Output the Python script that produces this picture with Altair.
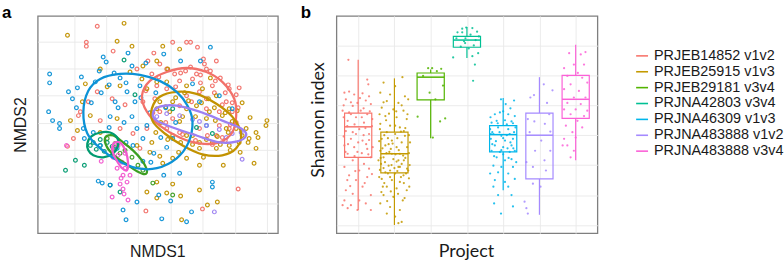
import altair as alt
import pandas as pd

projects = ["PRJEB14852 v1v2", "PRJEB25915 v1v3", "PRJEB29181 v3v4", "PRJNA42803 v3v4",
            "PRJNA46309 v1v3", "PRJNA483888 v1v2", "PRJNA483888 v3v4"]
colors = ["#F8766D", "#C49A00", "#53B400", "#00C094", "#00B6EB", "#A58AFF", "#FB61D7"]
colors_a = ["#F2716A", "#C29200", "#3C9E22", "#019B70", "#0C92D6", "#9C80F2", "#F25BCF"]

# ---------------- panel a : NMDS scores (NMDS1, NMDS2) ----------------
nmds_prjeb14852 = [(-0.74, 0.97), (-0.85, 0.81), (-0.85, 0.77), (-0.58, 0.72), (-0.17, 0.70), (0.02, 0.81),
                   (0.16, 0.81), (0.20, 0.81), (0.27, 0.76), (0.33, 0.64), (0.34, 0.59), (0.36, 0.54),
                   (0.46, 0.62), (0.69, 0.35), (0.68, -0.67), (-1.04, -0.24), (-0.93, 0.07), (-0.74, 0.31),
                   (-0.25, -0.89), (0.32, -0.87), (-0.59, 0.24), (-0.46, 0.18), (-0.34, 0.54), (-0.23, 0.62),
                   (-0.11, 0.59), (-0.04, 0.54), (0.09, 0.42), (0.22, 0.44), (0.42, 0.37), (0.29, 0.31),
                   (0.16, 0.27), (0.49, 0.11), (0.36, 0.14), (0.02, 0.04), (-0.11, 0.11), (-0.24, -0.06),
                   (-0.38, -0.11), (-0.51, -0.06), (-0.71, 0.02), (-0.83, 0.21), (-0.91, 0.11), (-0.98, -0.16),
                   (0.56, 0.21), (0.59, -0.06), (0.29, -0.06), (0.46, -0.13), (0.09, -0.10), (-0.04, 0.34),
                   (-0.16, 0.24), (-0.31, -0.26), (-0.19, 0.49), (0.04, 0.49), (0.26, 0.49), (0.59, 0.34),
                   (0.62, 0.11), (0.21, 0.21), (0.36, 0.24), (0.09, 0.17), (0.49, -0.03), (0.37, -0.13),
                   (-0.14, 0.37), (-0.28, 0.21), (-0.04, -0.06), (0.45, 0.42), (0.55, 0.30), (0.62, 0.20),
                   (0.60, -0.02), (0.52, -0.15), (0.15, 0.52), (0.30, 0.48), (0.10, 0.50), (0.20, 0.56),
                   (0.40, 0.52), (0.50, 0.45), (0.58, 0.38), (0.66, 0.28), (0.68, 0.15), (0.66, 0.00),
                   (0.55, -0.18), (0.42, -0.22), (0.25, -0.18), (0.12, -0.12), (-0.05, 0.00), (-0.18, 0.10),
                   (-0.25, 0.32), (-0.12, 0.46), (0.05, 0.36), (0.30, 0.40), (0.44, 0.30), (0.52, 0.18)]
nmds_prjeb25915 = [(-1.04, 0.88), (-0.47, 1.00), (-0.54, 0.82), (-0.39, 0.77), (-0.08, 0.77), (0.09, 0.74),
                   (-0.03, 0.54), (-0.14, 0.62), (-0.28, 0.57), (-0.41, 0.51), (-0.71, 0.54), (-0.86, 0.39),
                   (-0.89, 0.21), (-0.81, 0.07), (-1.01, 0.02), (-0.94, -0.08), (-0.71, -0.10), (-0.34, -0.23),
                   (-0.21, -0.30), (-0.11, -0.34), (0.02, -0.36), (0.16, -0.36), (0.29, -0.43), (0.46, -0.26),
                   (0.59, -0.23), (0.72, -0.13), (0.86, -0.10), (0.96, -0.03), (0.97, 0.02), (0.86, -0.26),
                   (0.84, -0.41), (0.53, -0.43), (0.29, -0.68), (0.47, -0.80), (0.37, -0.83), (-0.04, -0.71),
                   (-0.14, -0.76), (0.11, -0.98), (-0.14, -0.60), (-0.24, -0.70), (-0.08, -0.41), (0.29, -0.26),
                   (0.56, -0.06), (0.36, 0.04), (0.16, 0.14), (0.02, 0.21), (-0.11, 0.21), (-0.24, 0.34),
                   (-0.04, 0.41), (0.16, 0.37), (0.32, 0.34), (0.46, 0.27), (0.59, 0.14), (0.66, -0.06),
                   (0.22, -0.13), (0.09, 0.01), (-0.14, 0.41), (-0.29, 0.44), (-0.51, 0.37), (-0.64, 0.36),
                   (-0.54, 0.04), (0.02, -0.62), (0.10, -0.74), (-0.14, 0.14), (-0.01, 0.11), (0.12, 0.06),
                   (0.26, 0.17), (0.39, 0.11), (0.52, 0.07), (0.62, 0.01), (0.69, -0.20), (0.42, -0.20),
                   (0.16, -0.13), (0.02, -0.13), (0.29, -0.20), (0.79, -0.16), (0.76, -0.06), (-0.19, -0.20),
                   (0.05, 0.25), (0.18, 0.22), (0.31, 0.20), (0.44, 0.15), (0.55, 0.10), (0.65, 0.00),
                   (0.58, -0.10), (0.47, -0.14), (0.36, -0.17), (0.22, -0.22), (0.10, -0.20), (-0.03, -0.17),
                   (-0.10, 0.00), (-0.05, 0.16), (0.14, 0.30), (0.38, 0.24), (0.50, -0.22), (0.60, -0.28),
                   (0.70, -0.30), (0.78, -0.20), (0.33, -0.35), (0.08, -0.30), (-0.15, -0.10), (0.25, 0.06),
                   (0.45, 0.02), (0.67, 0.12), (0.72, 0.20), (0.80, 0.05), (0.88, -0.15), (0.40, 0.45)]
nmds_prjeb29181 = [(-0.18, -0.61), (0.02, -0.73), (-0.56, -0.21), (-0.46, -0.28), (-0.39, -0.35),
                   (-0.33, -0.43), (-0.51, -0.31), (-0.28, -0.48), (-0.58, -0.26), (-0.64, -0.16)]
nmds_prjna42803 = [(-1.06, -0.48), (-0.96, -0.38), (-0.87, -0.43), (-0.61, -0.63), (-0.51, -0.70),
                   (-0.47, 0.63), (-0.78, -0.20), (-0.71, -0.17), (-0.64, -0.20), (-0.75, -0.27),
                   (-0.67, -0.29), (-0.59, -0.24), (-0.71, -0.23), (-0.81, -0.23), (-0.36, 0.28),
                   (0.26, -0.05), (0.42, -0.11), (0.02, 0.14)]
nmds_prjna46309 = [(-1.22, 0.49), (-1.22, 0.40), (-1.23, 0.11), (-1.19, 0.02), (-1.12, -0.01), (-1.12, -0.06),
                   (-1.03, 0.31), (-0.94, 0.35), (-0.99, 0.24), (-0.90, 0.46), (-0.88, -0.06), (-0.87, -0.16),
                   (-0.76, 0.41), (-0.72, 0.52), (-0.68, 0.66), (-0.65, 0.61), (-0.56, 0.21), (-0.61, 0.06),
                   (-0.53, 0.15), (-0.47, 0.00), (-0.44, 0.31), (-0.51, 0.45), (-0.36, 0.21), (-0.34, -0.06),
                   (-0.28, -0.16), (-0.24, -0.03), (-0.54, -0.26), (-0.38, -0.23), (-0.17, -0.31), (-0.04, -0.25),
                   (0.02, -0.16), (-0.07, -0.53), (0.09, -0.51), (0.40, 0.76), (-0.07, 0.69), (-0.43, 0.70),
                   (-0.73, -0.59), (-0.69, -0.61), (-0.61, -0.63), (-0.48, -0.88), (-0.45, -0.98), (-0.34, -0.80),
                   (-0.12, -0.73), (-0.09, -0.97), (0.00, -0.79), (0.16, -1.00), (0.21, -0.90), (0.42, -0.60),
                   (0.42, -0.65), (0.29, 0.21), (0.36, -0.03), (0.49, 0.27), (0.62, 0.14), (0.22, 0.39),
                   (-0.39, 0.57), (-0.31, 0.37), (-0.21, 0.10), (-0.71, -0.23), (-0.39, 0.06), (-0.28, -0.39),
                   (-0.80, 0.20), (-0.70, 0.30), (-0.62, 0.38), (-0.45, 0.40), (-0.30, 0.25), (-0.15, 0.30),
                   (-0.05, 0.15), (0.05, 0.00), (-0.10, -0.15), (-0.20, -0.40), (-0.45, -0.20), (-0.62, -0.05),
                   (-0.78, -0.10), (-0.57, 0.50), (-0.25, 0.60), (0.10, 0.62), (0.30, 0.62), (-0.95, 0.15)]
nmds_prjna483888a = [(0.44, -0.90), (0.72, -0.37), (-0.04, 0.09), (0.09, 0.07), (0.22, 0.03), (0.36, -0.03),
                     (0.49, -0.07), (0.62, -0.11), (0.71, -0.10), (-0.14, 0.06), (0.29, 0.01), (0.56, -0.15)]
nmds_prjna483888b = [(-1.05, -0.23), (-0.70, -0.39), (-0.56, -0.26), (-0.53, -0.33), (-0.49, -0.40),
                     (-0.46, -0.46), (-0.48, -0.53), (-0.44, -0.60), (-0.50, -0.56), (-0.54, -0.46),
                     (-0.41, -0.53), (-0.58, -0.35), (-0.53, -0.23), (-0.48, -0.67), (-0.47, -0.72),
                     (-0.43, -0.78), (-0.59, -0.75), (-0.51, -0.62), (-0.46, -0.31)]

# 95% ellipses, outline points
ell_prjeb14852 = [(-0.29, 0.27), (-0.21, 0.42), (-0.04, 0.51), (0.16, 0.55), (0.36, 0.51), (0.52, 0.41),
                  (0.64, 0.24), (0.66, 0.07), (0.62, -0.10), (0.49, -0.20), (0.29, -0.21), (0.09, -0.15),
                  (-0.11, -0.03), (-0.24, 0.11)]
ell_prjeb25915 = [(-0.19, 0.14), (-0.11, 0.26), (0.06, 0.31), (0.26, 0.29), (0.46, 0.19), (0.62, 0.06),
                  (0.71, -0.11), (0.66, -0.26), (0.52, -0.33), (0.32, -0.32), (0.12, -0.23), (-0.06, -0.11),
                  (-0.18, 0.01)]
ell_prjeb29181 = [(-0.66, -0.15), (-0.58, -0.13), (-0.48, -0.20), (-0.38, -0.28), (-0.29, -0.38),
                  (-0.24, -0.48), (-0.26, -0.52), (-0.34, -0.49), (-0.46, -0.41), (-0.56, -0.34), (-0.64, -0.25)]
ell_prjna42803 = [(-0.84, -0.21), (-0.80, -0.14), (-0.71, -0.10), (-0.61, -0.10), (-0.54, -0.15),
                  (-0.53, -0.23), (-0.58, -0.31), (-0.68, -0.35), (-0.78, -0.33), (-0.83, -0.28)]
ell_prjna46309 = [(-0.88, 0.11), (-0.83, 0.32), (-0.71, 0.44), (-0.51, 0.49), (-0.31, 0.48), (-0.11, 0.42),
                  (0.06, 0.31), (0.17, 0.17), (0.22, 0.01), (0.18, -0.20), (0.06, -0.36), (-0.14, -0.46),
                  (-0.34, -0.46), (-0.54, -0.38), (-0.71, -0.26), (-0.84, -0.11)]
ell_prjna483888a = [(-0.18, 0.09), (-0.11, 0.16), (0.06, 0.17), (0.29, 0.11), (0.52, 0.02), (0.71, -0.06),
                    (0.76, -0.13), (0.67, -0.19), (0.49, -0.20), (0.26, -0.13), (0.02, -0.05), (-0.14, 0.02)]
ell_prjna483888b = [(-0.59, -0.25), (-0.56, -0.20), (-0.50, -0.21), (-0.45, -0.30), (-0.43, -0.40),
                    (-0.44, -0.48), (-0.49, -0.46), (-0.54, -0.39), (-0.58, -0.31)]

grid_a_x = [-0.973, -0.65, -0.33, 0.0, 0.32, 0.645, 0.97]
grid_a_y = [0.812, 0.542, 0.27, 0.0, -0.275, -0.545, -0.815]

# ---------------- panel b : Shannon index ----------------
project_pos = [1, 2, 3, 4, 5, 6, 7]
q1 = [2.63, 2.37, 3.59, 4.47, 2.72, 2.27, 3.28]
median = [3.14, 2.69, 3.97, 4.59, 3.01, 3.00, 3.60]
q3 = [3.37, 3.05, 4.04, 4.65, 3.16, 3.37, 4.00]
whisker_lo = [1.75, 1.50, 2.95, 4.29, 2.08, 1.67, 2.58]
whisker_hi = [4.26, 3.95, 4.10, 4.81, 3.62, 3.97, 4.51]

# (jitter offset, Shannon index)
shan_prjeb14852 = [(-0.27, 4.26), (0.25, 3.93), (0.28, 3.85), (-0.38, 3.71), (-0.25, 3.73), (-0.11, 3.68),
                   (0.12, 3.70), (-0.34, 3.60), (-0.02, 3.54), (0.21, 3.58), (-0.15, 3.49), (0.35, 3.52),
                   (-0.43, 3.41), (0.07, 3.41), (0.25, 3.35), (-0.29, 3.24), (-0.06, 3.30), (0.16, 3.21),
                   (-0.34, 3.07), (0.03, 3.10), (0.30, 3.02), (-0.20, 2.94), (0.12, 2.91), (-0.38, 2.83),
                   (-0.11, 2.80), (0.25, 2.77), (-0.29, 2.69), (-0.02, 2.72), (0.35, 2.63), (-0.15, 2.58),
                   (0.16, 2.52), (-0.38, 2.47), (0.03, 2.41), (-0.25, 2.33), (0.25, 2.30), (-0.06, 2.25),
                   (-0.34, 2.08), (0.12, 2.14), (-0.15, 2.02), (0.35, 2.00), (-0.38, 1.91), (0.03, 1.91),
                   (-0.20, 1.83), (0.21, 1.86), (-0.29, 1.78), (-0.02, 1.75), (0.35, 1.75), (-0.43, 1.83),
                   (0.30, 2.44), (-0.06, 3.02), (-0.25, 3.38), (0.39, 3.27),
                   (-0.40, 3.30), (-0.20, 3.35), (0.10, 3.30), (0.32, 3.40), (-0.30, 3.15), (-0.10, 3.18),
                   (0.20, 3.12), (0.38, 3.15), (-0.40, 2.98), (-0.15, 3.05), (0.15, 3.00), (0.30, 2.92),
                   (-0.28, 2.85), (0.00, 2.88), (0.22, 2.85), (0.40, 2.80), (-0.35, 2.72), (-0.10, 2.65),
                   (0.10, 2.70), (0.28, 2.68), (-0.20, 3.55), (0.05, 3.62), (0.30, 3.65), (-0.40, 3.50),
                   (0.15, 3.45), (-0.30, 2.25), (0.18, 2.20), (-0.08, 2.40), (0.38, 2.35), (-0.22, 2.15)]
shan_prjeb25915 = [(0.22, 3.97), (-0.30, 3.88), (0.02, 3.82), (-0.39, 3.71), (-0.12, 3.68), (0.29, 3.65),
                   (-0.21, 3.57), (0.11, 3.54), (0.38, 3.60), (-0.35, 3.46), (-0.03, 3.43), (0.25, 3.41),
                   (-0.25, 3.32), (0.06, 3.30), (0.34, 3.27), (-0.39, 3.19), (-0.12, 3.16), (0.15, 3.13),
                   (-0.21, 3.05), (0.02, 3.02), (0.29, 2.99), (-0.35, 2.94), (-0.07, 2.91), (0.20, 2.88),
                   (-0.25, 2.83), (0.06, 2.80), (0.35, 2.80), (-0.39, 2.74), (-0.14, 2.72), (0.15, 2.69),
                   (-0.30, 2.63), (-0.03, 2.60), (0.26, 2.58), (-0.37, 2.52), (-0.16, 2.49), (0.11, 2.47),
                   (0.35, 2.44), (-0.25, 2.38), (0.02, 2.36), (0.25, 2.33), (-0.35, 2.27), (-0.07, 2.25),
                   (0.15, 2.22), (-0.21, 2.14), (0.06, 2.11), (0.34, 2.08), (-0.30, 2.00), (-0.03, 1.97),
                   (0.23, 1.91), (-0.39, 1.86), (-0.12, 1.80), (0.15, 1.75), (-0.21, 1.69), (0.02, 1.64),
                   (0.20, 1.55), (0.11, 1.53), (-0.32, 2.14), (0.38, 2.41), (-0.44, 2.58), (0.43, 2.88),
                   (-0.41, 3.35), (0.41, 2.14), (-0.16, 2.85), (0.11, 2.58), (-0.12, 2.41), (0.02, 3.16),
                   (-0.23, 3.25), (0.26, 3.07), (-0.07, 2.69), (0.15, 2.47),
                   (-0.40, 3.10), (-0.28, 3.00), (-0.18, 2.95), (-0.05, 2.86), (0.08, 2.95), (0.18, 3.06),
                   (0.30, 3.12), (0.40, 3.00), (-0.42, 2.90), (-0.33, 2.78), (-0.22, 2.70), (-0.10, 2.77),
                   (0.03, 2.68), (0.12, 2.75), (0.24, 2.66), (0.40, 2.70), (-0.38, 2.62), (-0.26, 2.55),
                   (-0.08, 2.50), (0.06, 2.56), (0.20, 2.52), (0.30, 2.62), (0.42, 2.50), (-0.40, 2.42),
                   (-0.30, 2.45), (-0.18, 2.36), (0.08, 2.40), (0.18, 2.30), (0.32, 2.36), (-0.42, 2.30),
                   (-0.12, 2.30), (0.00, 2.45), (0.26, 2.20), (-0.28, 2.20), (0.40, 2.28), (-0.36, 2.05),
                   (0.10, 2.02), (0.28, 1.95), (-0.10, 2.06), (-0.20, 1.90), (0.05, 3.40), (-0.30, 3.55),
                   (0.20, 3.50), (0.36, 3.35), (-0.15, 3.36)]
shan_prjeb29181 = [(-0.07, 4.12), (0.04, 4.12), (0.29, 4.11), (0.17, 4.07), (0.34, 3.83), (-0.03, 3.71),
                   (0.13, 3.60), (-0.36, 3.31), (0.26, 3.23), (0.40, 3.28), (0.06, 2.96), (-0.21, 3.99)]
shan_prjna42803 = [(-0.02, 4.80), (0.15, 4.79), (0.28, 4.73), (-0.13, 4.72), (0.10, 4.68), (0.24, 4.59),
                   (-0.05, 4.54), (0.19, 4.50), (0.05, 4.45), (0.31, 4.37), (0.15, 4.32), (0.22, 4.18),
                   (0.17, 3.91), (-0.26, 4.72), (-0.13, 4.78), (-0.38, 4.30), (-0.29, 4.62), (-0.17, 4.48),
                   (-0.08, 4.57), (-0.04, 4.62), (0.33, 4.65)]
shan_prjna46309 = [(-0.06, 3.60), (0.07, 3.52), (0.30, 3.58), (-0.23, 3.35), (-0.09, 3.38), (0.14, 3.35),
                   (0.32, 3.32), (-0.32, 3.21), (-0.18, 3.24), (0.05, 3.25), (0.23, 3.23), (-0.36, 3.10),
                   (-0.14, 3.13), (0.14, 3.10), (0.34, 3.13), (-0.27, 3.02), (-0.05, 2.99), (0.18, 3.02),
                   (-0.34, 2.94), (0.05, 2.91), (0.27, 2.94), (-0.23, 2.83), (0.00, 2.80), (0.23, 2.83),
                   (-0.32, 2.74), (-0.09, 2.72), (0.18, 2.72), (0.32, 2.74), (-0.18, 2.63), (0.05, 2.58),
                   (0.23, 2.60), (-0.27, 2.49), (-0.05, 2.47), (0.27, 2.47), (-0.14, 2.38), (0.14, 2.36),
                   (-0.36, 2.36), (-0.23, 2.25), (0.05, 2.22), (0.32, 2.27), (-0.27, 2.14), (0.14, 2.14),
                   (-0.25, 1.86), (0.27, 1.81), (-0.06, 1.69), (-0.14, 2.00), (0.23, 2.00), (-0.34, 3.02),
                   (0.36, 2.55),
                   (-0.30, 3.05), (-0.10, 3.05), (0.10, 3.00), (0.30, 3.05), (-0.20, 2.90), (0.00, 2.95),
                   (0.20, 2.88), (-0.30, 2.85), (0.12, 2.78), (-0.05, 2.75), (0.28, 2.78), (-0.25, 2.65),
                   (0.00, 2.68), (0.15, 2.62), (-0.15, 3.20), (0.10, 3.18), (0.27, 3.20), (-0.35, 3.30),
                   (0.00, 3.40), (0.20, 3.45)]
shan_prjna483888a = [(-0.15, 3.67), (-0.25, 3.63), (0.21, 3.54), (0.36, 3.75), (0.12, 3.85), (-0.32, 3.27),
                     (-0.14, 3.23), (0.15, 3.19), (0.30, 3.06), (-0.27, 3.05), (0.05, 2.91), (0.30, 2.74),
                     (-0.12, 2.74), (0.14, 2.58), (-0.36, 2.55), (-0.18, 2.47), (0.03, 2.14), (-0.18, 2.19),
                     (-0.41, 1.89), (-0.36, 1.78), (-0.32, 1.69), (0.18, 2.41), (0.27, 3.35)]
shan_prjna483888b = [(-0.18, 4.37), (0.14, 4.35), (0.27, 4.39), (-0.05, 4.18), (0.23, 4.18), (-0.32, 4.12),
                     (0.06, 4.04), (-0.23, 3.99), (0.18, 3.96), (-0.14, 3.85), (0.32, 3.88), (-0.32, 3.77),
                     (0.09, 3.74), (-0.05, 3.63), (0.27, 3.63), (-0.23, 3.54), (0.14, 3.52), (-0.32, 3.43),
                     (0.00, 3.43), (0.32, 3.41), (-0.14, 3.35), (0.23, 3.32), (0.05, 3.24), (-0.27, 3.16),
                     (0.18, 3.13), (-0.09, 3.05), (-0.32, 2.94), (0.00, 2.96), (-0.23, 2.83), (-0.36, 2.83),
                     (-0.05, 2.74), (-0.14, 2.63)]
grid_b_y = [1.5, 2.0, 2.5, 3.0, 3.5, 4.0, 4.5]

panel_labels = ["a", "b"]
axis_titles = ["NMDS1", "NMDS2", "Shannon index", "Project"]

# ---------------- build tables ----------------
nmds_groups = [nmds_prjeb14852, nmds_prjeb25915, nmds_prjeb29181, nmds_prjna42803,
               nmds_prjna46309, nmds_prjna483888a, nmds_prjna483888b]
ell_groups = [ell_prjeb14852, ell_prjeb25915, ell_prjeb29181, ell_prjna42803,
              ell_prjna46309, ell_prjna483888a, ell_prjna483888b]
shan_groups = [shan_prjeb14852, shan_prjeb25915, shan_prjeb29181, shan_prjna42803,
               shan_prjna46309, shan_prjna483888a, shan_prjna483888b]

df_pts = pd.DataFrame([{"project": p, "nmds1": x, "nmds2": y}
                       for p, g in zip(projects, nmds_groups) for x, y in g])
df_ell = pd.DataFrame([{"project": p, "nmds1": x, "nmds2": y, "seq": i}
                       for p, g in zip(projects, ell_groups) for i, (x, y) in enumerate(g)])
df_box = pd.DataFrame({"project": projects, "pos": project_pos, "q1": q1, "med": median, "q3": q3,
                       "lo": whisker_lo, "hi": whisker_hi})
df_shan = pd.DataFrame([{"project": p, "x": pos + off, "shannon": v}
                        for p, pos, g in zip(projects, project_pos, shan_groups) for off, v in g])
df_leg = pd.DataFrame({"project": projects})

col_a = alt.Color("project:N", scale=alt.Scale(domain=projects, range=colors_a), legend=None)
col_b = alt.Color("project:N", scale=alt.Scale(domain=projects, range=colors), legend=None)

grid_kw = dict(grid=True, labels=False, ticks=False, domain=False, title=None,
               gridColor="#e8e8e8", gridWidth=0.9)

# ---------------- panel a ----------------
xa = alt.X("nmds1:Q", scale=alt.Scale(domain=[-1.34, 1.08], nice=False, zero=False),
           axis=alt.Axis(values=grid_a_x, **grid_kw))
ya = alt.Y("nmds2:Q", scale=alt.Scale(domain=[-1.115, 1.075], nice=False, zero=False),
           axis=alt.Axis(values=grid_a_y, **grid_kw))

pts = alt.Chart(df_pts).mark_point(shape="circle", filled=False, size=14, strokeWidth=1.2, opacity=0.95).encode(
    x=xa, y=ya, color=col_a)
ell = alt.Chart(df_ell).mark_line(interpolate="cardinal-closed", strokeWidth=2.3).encode(
    x=xa, y=ya, color=col_a, detail="project:N", order="seq:Q")

lab_a = alt.Chart(pd.DataFrame({"t": [panel_labels[0]]})).mark_text(
    align="left", baseline="top", font="Liberation Sans", fontSize=17, fontWeight="bold", color="#000000"
).encode(text="t:N", x=alt.value(-36), y=alt.value(-11))
t_nmds1 = alt.Chart(pd.DataFrame({"t": [axis_titles[0]]})).mark_text(
    align="center", baseline="middle", font="Liberation Sans", fontSize=16, color="#1a1a1a"
).encode(text="t:N", x=alt.value(121), y=alt.value(238))
t_nmds2 = alt.Chart(pd.DataFrame({"t": [axis_titles[1]]})).mark_text(
    align="center", baseline="middle", font="Liberation Sans", fontSize=16, color="#1a1a1a", angle=270
).encode(text="t:N", x=alt.value(-17), y=alt.value(110))

panel_a = alt.layer(pts, ell, lab_a, t_nmds1, t_nmds2).properties(width=242, height=219)

# ---------------- panel b ----------------
xb_scale = alt.Scale(domain=[0.4, 7.6], nice=False, zero=False)
yb_scale = alt.Scale(domain=[1.362, 4.994], nice=False, zero=False)
xb_axis = alt.Axis(values=project_pos, **grid_kw)
yb_axis = alt.Axis(values=grid_b_y, **grid_kw)

box_base = alt.Chart(df_box).transform_calculate(x1="datum.pos - 0.375", x2="datum.pos + 0.375")

whisk_hi = box_base.mark_rule(strokeWidth=1.2).encode(
    x=alt.X("pos:Q", scale=xb_scale, axis=xb_axis),
    y=alt.Y("q3:Q", scale=yb_scale, axis=yb_axis), y2="hi:Q", color=col_b)
whisk_lo = box_base.mark_rule(strokeWidth=1.2).encode(
    x=alt.X("pos:Q", scale=xb_scale, axis=xb_axis),
    y=alt.Y("lo:Q", scale=yb_scale, axis=yb_axis), y2="q1:Q", color=col_b)
box = box_base.mark_rect(filled=False, strokeWidth=1.2).encode(
    x=alt.X("x1:Q", scale=xb_scale, axis=xb_axis), x2="x2:Q",
    y=alt.Y("q1:Q", scale=yb_scale, axis=yb_axis), y2="q3:Q", color=col_b)
med = box_base.mark_rule(strokeWidth=1.5).encode(
    x=alt.X("x1:Q", scale=xb_scale, axis=xb_axis), x2="x2:Q",
    y=alt.Y("med:Q", scale=yb_scale, axis=yb_axis), color=col_b)
dots = alt.Chart(df_shan).mark_circle(size=5, opacity=0.85).encode(
    x=alt.X("x:Q", scale=xb_scale, axis=xb_axis),
    y=alt.Y("shannon:Q", scale=yb_scale, axis=yb_axis), color=col_b)

lab_b = alt.Chart(pd.DataFrame({"t": [panel_labels[1]]})).mark_text(
    align="left", baseline="top", font="Liberation Sans", fontSize=17, fontWeight="bold", color="#000000"
).encode(text="t:N", x=alt.value(-36), y=alt.value(-11))
t_shan = alt.Chart(pd.DataFrame({"t": [axis_titles[2]]})).mark_text(
    align="center", baseline="middle", font="Lato", fontSize=18, color="#1a1a1a", angle=270
).encode(text="t:N", x=alt.value(-18), y=alt.value(105))
t_proj = alt.Chart(pd.DataFrame({"t": [axis_titles[3]]})).mark_text(
    align="center", baseline="middle", font="Lato", fontSize=18, color="#1a1a1a"
).encode(text="t:N", x=alt.value(131), y=alt.value(238))

panel_b = alt.layer(box, whisk_hi, whisk_lo, med, dots, lab_b, t_shan, t_proj).properties(width=263, height=219)

# ---------------- legend panel ----------------
leg_y = alt.Y("project:N", scale=alt.Scale(type="point", domain=projects, range=[40.3, 136.3], padding=0),
              axis=None)
leg_keys = alt.Chart(df_leg).mark_rule(strokeWidth=1.6).encode(
    x=alt.value(-20), x2=alt.value(-8), y=leg_y, color=col_b)
leg_text = alt.Chart(df_leg).mark_text(
    align="left", baseline="middle", font="Liberation Sans", fontSize=14.5, color="#1a1a1a"
).encode(x=alt.value(-2), y=leg_y, text="project:N")
legend_panel = alt.layer(leg_keys, leg_text).properties(
    width=100, height=219, view=alt.ViewBackground(stroke="transparent", strokeWidth=0))

chart = alt.hconcat(panel_a, panel_b, legend_panel, spacing=59, bounds="flush").resolve_scale(
    color="independent", y="independent"
).configure_view(stroke="#7f7f7f", strokeWidth=1.3).properties(
    padding={"left": 1, "top": 2, "right": 0, "bottom": 0}, background="white")

chart.save("out.html", embed_options={"renderer": "svg", "actions": False})
